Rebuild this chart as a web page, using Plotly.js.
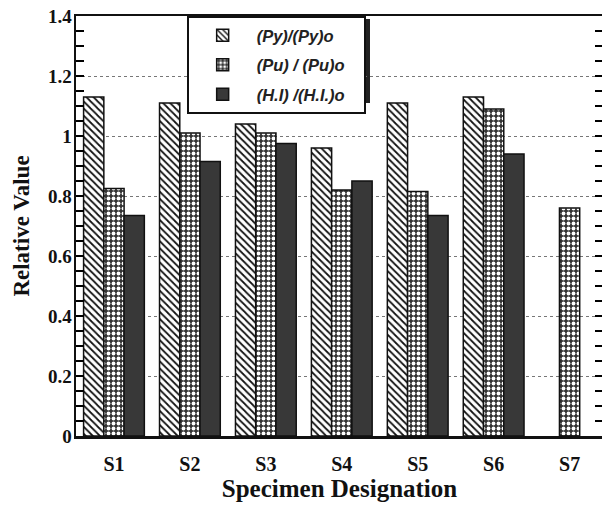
<!DOCTYPE html>
<html>
<head>
<meta charset="utf-8">
<script src="https://cdn.plot.ly/plotly-3.0.1.min.js"></script>
<style>
html,body{margin:0;padding:0;overflow:hidden;background:#fff;}
#chart{width:606px;height:505px;}
</style>
</head>
<body>
<div id="chart"></div>
<script>
var categories = ["S1","S2","S3","S4","S5","S6","S7"];
var seriesNames = ["(Py)/(Py)o", "(Pu) / (Pu)o", "(H.I) /(H.I.)o\u00a0\u00a0\u00a0"];
var pyValues = [1.13, 1.11, 1.04, 0.96, 1.11, 1.13, null];
var puValues = [0.825, 1.01, 1.01, 0.82, 0.815, 1.09, 0.76];
var hiValues = [0.735, 0.915, 0.975, 0.85, 0.735, 0.94, null];
var yMax = 1.4;
var minorTickStep = 0.05;

var outline = {color: "#111", width: 1.5};
var traces = [
  {type: "bar", name: seriesNames[0], x: categories, y: pyValues, legendgroup: "a",
   marker: {color: "#ffffff", line: outline,
     pattern: {shape: "\\", fgcolor: "#111", bgcolor: "#ffffff", size: 5, solidity: 0.35}}},
  {type: "bar", name: seriesNames[1], x: categories, y: puValues, legendgroup: "b",
   marker: {color: "#333333", line: outline,
     pattern: {shape: ".", fgcolor: "#ffffff", bgcolor: "#333333", size: 5, solidity: 0.45}}},
  {type: "bar", name: seriesNames[2], x: categories, y: hiValues, legendgroup: "c",
   marker: {color: "#383838", line: outline}}
];

// inside tick marks on left and right frame, placed through the y axis scale
var tickShapes = [];
for (var k = 1; k * minorTickStep < yMax - 1e-9; k++) {
  var v = +(k * minorTickStep).toFixed(2);
  tickShapes.push({type: "line", xref: "paper", yref: "y", layer: "above",
    xsizemode: "pixel", xanchor: 0, x0: 0, x1: 8, y0: v, y1: v,
    line: {color: "#000", width: 2}});
  tickShapes.push({type: "line", xref: "paper", yref: "y", layer: "above",
    xsizemode: "pixel", xanchor: 1, x0: -8, x1: 0, y0: v, y1: v,
    line: {color: "#000", width: 2}});
}

var serif = "Liberation Serif, Times New Roman, serif";
var layout = {
  width: 606, height: 505,
  margin: {l: 76, r: 3, t: 16, b: 69},
  paper_bgcolor: "#ffffff", plot_bgcolor: "#ffffff",
  barmode: "group", bargap: 0.2, bargroupgap: 0,
  font: {family: serif, color: "#111"},
  showlegend: true,
  legend: {
    x: 0.21, y: 1.0, xanchor: "left", yanchor: "top",
    bgcolor: "#ffffff", bordercolor: "#111", borderwidth: 2,
    font: {family: "Liberation Sans, Arial, sans-serif", size: 16.5, color: "#222", style: "italic", weight: "bold"},
    traceorder: "grouped", tracegroupgap: 5,
    itemwidth: 58
  },
  xaxis: {
    type: "category", range: [-0.5, 6.44],
    showline: true, linecolor: "#111", linewidth: 2.5, mirror: true,
    ticks: "", showgrid: false,
    tickfont: {family: serif, size: 20, weight: "bold", color: "#111"},
    ticklabelstandoff: 8,
    title: {text: "Specimen Designation", font: {family: serif, size: 25, weight: "bold", color: "#111"}, standoff: 6}
  },
  yaxis: {
    range: [0, yMax], tickmode: "linear", tick0: 0, dtick: 0.2,
    showline: true, linecolor: "#111", linewidth: 2.5, mirror: "ticks",
    ticks: "inside", ticklen: 8, tickwidth: 2, tickcolor: "#000",
    minor: {dtick: minorTickStep, ticks: "inside", ticklen: 8, tickwidth: 2, tickcolor: "#000"},
    showgrid: true, gridcolor: "#777", griddash: "dot", gridwidth: 1,
    zeroline: false,
    tickfont: {family: serif, size: 19, weight: "bold", color: "#111"},
    ticklabelstandoff: -2,
    title: {text: "Relative Value", font: {family: serif, size: 23, weight: "bold", color: "#111"}, standoff: 12}
  },
  shapes: [
    {type: "rect", xref: "paper", yref: "paper", layer: "below",
     x0: (192 - 76) / 527, x1: (370 - 76) / 527, y0: (436 - 103) / 420, y1: (436 - 19) / 420,
     fillcolor: "#222", line: {width: 0}}
  ].concat(tickShapes)
};

Plotly.newPlot("chart", traces, layout, {displayModeBar: false, staticPlot: true});
</script>
</body>
</html>
